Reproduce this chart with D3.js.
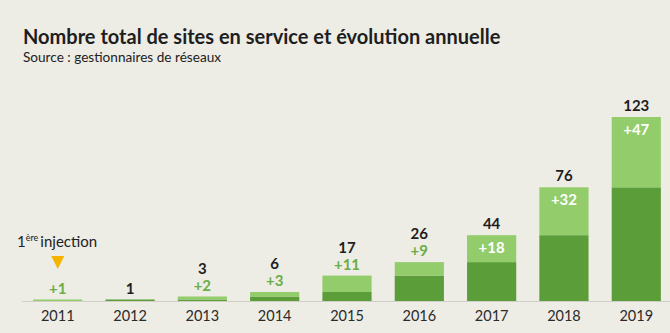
<!DOCTYPE html>
<html>
<head>
<meta charset="utf-8">
<script src="https://cdn.jsdelivr.net/npm/d3@7"></script>
<style>
  body { margin: 0; background: #edece5; }
  svg { display: block; font-family: Lato, "Open Sans", sans-serif; }
</style>
</head>
<body>
<div id="chart"></div>
<script>
const years = ["2011", "2012", "2013", "2014", "2015", "2016", "2017", "2018", "2019"];
const totals = [1, 1, 3, 6, 17, 26, 44, 76, 123];
const added = [1, 0, 2, 3, 11, 9, 18, 32, 47];

const width = 670;
const height = 333;
const baseY = 301;

const svg = d3.select("#chart").append("svg")
  .attr("width", width)
  .attr("height", height);

svg.append("rect").attr("width", width).attr("height", height).attr("fill", "#edece5");

svg.append("text")
  .attr("x", 23).attr("y", 44)
  .attr("font-size", 20).attr("font-weight", 700).attr("fill", "#1e1e1e")
  .text("Nombre total de sites en service et évolution annuelle");

svg.append("text")
  .attr("x", 23).attr("y", 62)
  .attr("font-size", 13.6).attr("fill", "#222")
  .text("Source : gestionnaires de réseaux");

const x = d3.scaleBand().domain(years).range([10, 684]).padding(0.32);
const y = d3.scaleLinear().domain([0, 123]).range([baseY, 117]);

const data = years.map((yr, i) => ({ year: yr, total: totals[i], added: added[i], prev: totals[i] - added[i] }));

// axis baseline
svg.append("line")
  .attr("x1", 22).attr("x2", width)
  .attr("y1", baseY + 0.5).attr("y2", baseY + 0.5)
  .attr("stroke", "#cfcfc8").attr("stroke-width", 1);

// previous-year stock
svg.selectAll(".base").data(data)
  .join("rect")
  .attr("class", "base")
  .attr("x", d => x(d.year))
  .attr("width", x.bandwidth())
  .attr("y", d => y(d.prev))
  .attr("height", d => y(0) - y(d.prev))
  .attr("fill", "#5b9d38");

// yearly increase
svg.selectAll(".inc").data(data)
  .join("rect")
  .attr("class", "inc")
  .attr("x", d => x(d.year))
  .attr("width", x.bandwidth())
  .attr("y", d => y(d.total))
  .attr("height", d => y(d.prev) - y(d.total))
  .attr("fill", "#93cc6b");

// labels go inside the light segment when it is tall enough
const inside = d => y(d.prev) - y(d.total) > 22;

svg.selectAll(".inc-label").data(data.filter(d => d.added > 0))
  .join("text")
  .attr("class", "inc-label")
  .attr("x", d => x(d.year) + x.bandwidth() / 2)
  .attr("y", d => inside(d) ? y(d.total) + 18 : y(d.total) - 6)
  .attr("text-anchor", "middle")
  .attr("font-size", 15).attr("font-weight", 700)
  .attr("fill", d => inside(d) ? "#fff" : "#6bad46")
  .text(d => "+" + d.added);

svg.selectAll(".tot-label").data(data)
  .join("text")
  .attr("class", "tot-label")
  .attr("x", d => x(d.year) + x.bandwidth() / 2)
  .attr("y", d => (inside(d) || d.added === 0) ? y(d.total) - 6 : y(d.total) - 23)
  .attr("text-anchor", "middle")
  .attr("font-size", 15).attr("font-weight", 700)
  .attr("fill", "#1e1e1e")
  .text(d => d.year === "2011" ? "" : d.total);

// year axis
const axis = svg.append("g")
  .attr("transform", `translate(0,${baseY})`)
  .call(d3.axisBottom(x).tickSize(0).tickPadding(10));
axis.select(".domain").remove();
axis.selectAll("text")
  .attr("font-family", "Lato, 'Open Sans', sans-serif")
  .attr("font-size", 14.5).attr("fill", "#2a2a2a");

// first injection annotation
const cx = x("2011") + x.bandwidth() / 2;
svg.append("path")
  .attr("d", `M${cx - 6.5},256 L${cx + 6.5},256 L${cx},269 Z`)
  .attr("fill", "#f5b400");

const note = svg.append("text")
  .attr("x", 17).attr("y", 247)
  .attr("font-size", 15).attr("fill", "#222");
note.append("tspan").text("1");
note.append("tspan").attr("font-size", 9).attr("dy", -6).text("ère");
note.append("tspan").attr("dy", 6).attr("dx", 2).text("injection");
</script>
</body>
</html>
